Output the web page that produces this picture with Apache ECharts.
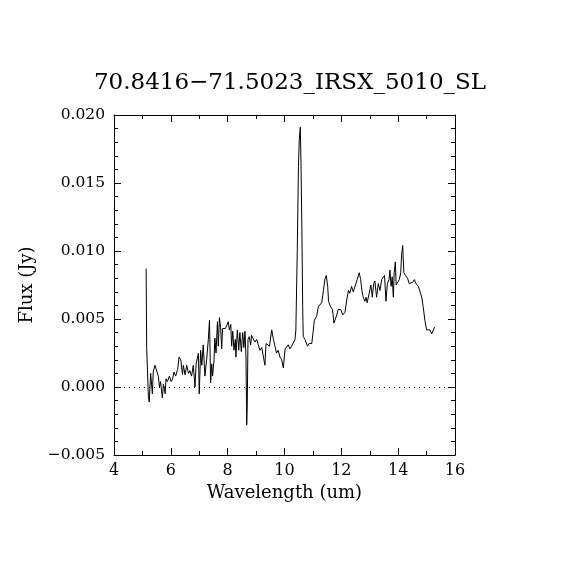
<!DOCTYPE html>
<html>
<head>
<meta charset="utf-8">
<script src="https://cdn.jsdelivr.net/npm/echarts@6/dist/echarts.min.js"></script>
<style>
  html, body { margin: 0; padding: 0; background: #fff; }
  #chart { width: 570px; height: 570px; }
</style>
</head>
<body>
<div id="chart"></div>
<script>
// spectrum: wavelength (um) and flux (Jy)
var wave = [
  5.13, 5.15, 5.21, 5.24, 5.29, 5.35, 5.38, 5.44, 5.50, 5.56, 5.60, 5.64, 5.70, 5.74, 5.80, 5.83, 5.88, 5.95,
  6.01, 6.06, 6.11, 6.17, 6.24, 6.29, 6.35, 6.41, 6.44, 6.50, 6.56, 6.62, 6.67, 6.73, 6.79, 6.85, 6.89, 6.93, 6.97,
  7.00, 7.05, 7.09, 7.14, 7.20, 7.26, 7.32, 7.36, 7.40, 7.44, 7.47, 7.52, 7.55, 7.59, 7.64, 7.67, 7.71, 7.75, 7.79,
  7.82, 7.87, 7.92, 7.96, 8.02, 8.06, 8.11, 8.14, 8.18, 8.22, 8.27, 8.29, 8.34, 8.39, 8.43, 8.48, 8.53, 8.57, 8.61,
  8.645, 8.67, 8.69, 8.715, 8.76, 8.81, 8.84, 8.90, 8.96, 9.02, 9.08,
  9.137, 9.20, 9.25, 9.31, 9.35, 9.40, 9.47, 9.55, 9.61, 9.67, 9.72, 9.78, 9.84, 9.90, 9.96,
  10.02, 10.08, 10.13, 10.19, 10.25, 10.31, 10.37, 10.40, 10.45, 10.49, 10.52, 10.556, 10.58, 10.615, 10.64, 10.66,
  10.72, 10.78, 10.81, 10.87, 10.96, 11.01, 11.05, 11.13, 11.19, 11.25, 11.31, 11.37, 11.42, 11.47, 11.52, 11.55,
  11.62, 11.69, 11.74, 11.79, 11.84, 11.89, 11.98, 12.05, 12.13, 12.19, 12.25, 12.30, 12.36, 12.42, 12.49, 12.56,
  12.63, 12.68, 12.73, 12.77, 12.83, 12.87, 12.91, 12.98, 13.04, 13.09, 13.14, 13.18, 13.24, 13.30, 13.36, 13.42,
  13.48, 13.52, 13.57, 13.62, 13.68, 13.71, 13.75, 13.79, 13.83, 13.86, 13.90, 13.93, 13.98, 14.04, 14.09, 14.12,
  14.16, 14.20, 14.26, 14.33, 14.39, 14.45, 14.51, 14.57, 14.63, 14.71, 14.77, 14.83, 14.88, 14.94, 15.00, 15.06,
  15.12, 15.18, 15.24, 15.28
];
var flux = [
  0.0087, 0.0029, -0.0007, -0.0011, 0.0010, -0.0005, 0.0011, 0.0016, 0.0015, 0.0008, 0.0000, 0.0004, -0.0008, 0.0002, -0.0005, 0.0006, 0.0004, 0.0008,
  0.0004, 0.0006, 0.0011, 0.0008, 0.0013, 0.0022, 0.0020, 0.0009, 0.0016, 0.0009, 0.0016, 0.0010, 0.0012, 0.0008, 0.0016, 0.0000, 0.0017, 0.0016, 0.0025,
  -0.0005, 0.0027, 0.0016, 0.0031, 0.0008, 0.0020, 0.0035, 0.0049, 0.0003, 0.0017, 0.0008, 0.0020, 0.0036, 0.0025, 0.0048, 0.0030, 0.0051, 0.0044, 0.0028,
  0.0043, 0.0042, 0.0043, 0.0042, 0.0048, 0.0042, 0.0046, 0.0030, 0.0041, 0.0027, 0.0035, 0.0022, 0.0042, 0.0027, 0.0040, 0.0026, 0.0040, 0.0029, 0.0041,
  0.0022, -0.0028, -0.0012, 0.0035, 0.0037, 0.0031, 0.0038, 0.0039, 0.0033, 0.0035, 0.0035,
  0.0027, 0.0029, 0.0028, 0.0016, 0.0032, 0.0033, 0.0030, 0.0042, 0.0035, 0.0035, 0.0025, 0.0027, 0.0022, 0.0020, 0.0014,
  0.0028, 0.0028, 0.0031, 0.0028, 0.0030, 0.0031, 0.0035, 0.0042, 0.0101, 0.0162, 0.0182, 0.0191, 0.0165, 0.0111, 0.0059, 0.0037,
  0.0035, 0.0035, 0.0030, 0.0032, 0.0032, 0.0041, 0.0049, 0.0052, 0.0059, 0.0060, 0.0062, 0.0071, 0.0079, 0.0082, 0.0074, 0.0063,
  0.0059, 0.0057, 0.0047, 0.0047, 0.0053, 0.0057, 0.0057, 0.0053, 0.0055, 0.0064, 0.0071, 0.0069, 0.0074, 0.0070, 0.0069, 0.0079,
  0.0084, 0.0079, 0.0070, 0.0066, 0.0063, 0.0066, 0.0062, 0.0069, 0.0075, 0.0066, 0.0076, 0.0078, 0.0066, 0.0076, 0.0071, 0.0079,
  0.0078, 0.0082, 0.0063, 0.0076, 0.0079, 0.0086, 0.0074, 0.0081, 0.0066, 0.0084, 0.0092, 0.0075, 0.0076, 0.0079, 0.0084, 0.0097,
  0.0104, 0.0084, 0.0082, 0.0080, 0.0076, 0.0075, 0.0077, 0.0079, 0.0076, 0.0074, 0.0073, 0.0066, 0.0059, 0.0049, 0.0042, 0.0042,
  0.0042, 0.0039, 0.0042, 0.0044
];

var titleText = '70.8416\u221271.5023_IRSX_5010_SL';
var xName = 'Wavelength (um)';
var yName = 'Flux (Jy)';

var FONT = 'DejaVu Serif';

var points = wave.map(function (w, i) { return [w, flux[i]]; });

function minus(s) { return String(s).replace('-', '\u2212'); }

// shared look for the frame axes (all four sides, ticks pointing in)
function frameAxis(extra) {
  var a = {
    type: 'value',
    axisLine: { show: true, onZero: false, lineStyle: { color: '#000', width: 1 } },
    axisTick: { show: true, inside: true, length: 7, lineStyle: { color: '#000' } },
    minorTick: { show: true, length: 4, lineStyle: { color: '#000' } },
    splitLine: { show: false },
    axisLabel: { show: false }
  };
  for (var k in extra) a[k] = extra[k];
  return a;
}

var chart = echarts.init(document.getElementById('chart'));

chart.setOption({
  animation: false,
  backgroundColor: '#fff',
  title: {
    text: titleText,
    left: 285, top: 67, textAlign: 'center',
    textStyle: { fontFamily: FONT, fontSize: 23, fontWeight: 'normal', color: '#000' }
  },
  grid: { left: 114, right: 115, top: 115, bottom: 115 },
  xAxis: [
    frameAxis({
      position: 'bottom', min: 4, max: 16, interval: 2,
      minorTick: { show: true, splitNumber: 2, length: 4, lineStyle: { color: '#000' } },
      axisLabel: { show: true, color: '#000', fontFamily: FONT, fontSize: 16, margin: 8 },
      name: xName, nameLocation: 'middle', nameGap: 28,
      nameTextStyle: { fontFamily: FONT, fontSize: 18, color: '#000' }
    }),
    frameAxis({
      position: 'top', min: 4, max: 16, interval: 2,
      minorTick: { show: true, splitNumber: 2, length: 4, lineStyle: { color: '#000' } }
    })
  ],
  yAxis: [
    frameAxis({
      position: 'left', min: -0.005, max: 0.02, interval: 0.005,
      minorTick: { show: true, splitNumber: 5, length: 4, lineStyle: { color: '#000' } },
      axisLabel: {
        show: true, color: '#000', fontFamily: FONT, fontSize: 15.5, margin: 9,
        formatter: function (v) { return minus(v.toFixed(3)); }
      },
      name: yName, nameLocation: 'middle', nameGap: 78, nameRotate: 90,
      nameTextStyle: { fontFamily: FONT, fontSize: 18, color: '#000' }
    }),
    frameAxis({
      position: 'right', min: -0.005, max: 0.02, interval: 0.005,
      minorTick: { show: true, splitNumber: 5, length: 4, lineStyle: { color: '#000' } }
    })
  ],
  series: [{
    type: 'line',
    data: points,
    showSymbol: false,
    lineStyle: { color: '#000', width: 1 },
    markLine: {
      silent: true,
      symbol: 'none',
      label: { show: false },
      lineStyle: { color: '#000', type: [1, 4], width: 1 },
      data: [{ yAxis: 0 }]
    }
  }]
});
</script>
</body>
</html>
